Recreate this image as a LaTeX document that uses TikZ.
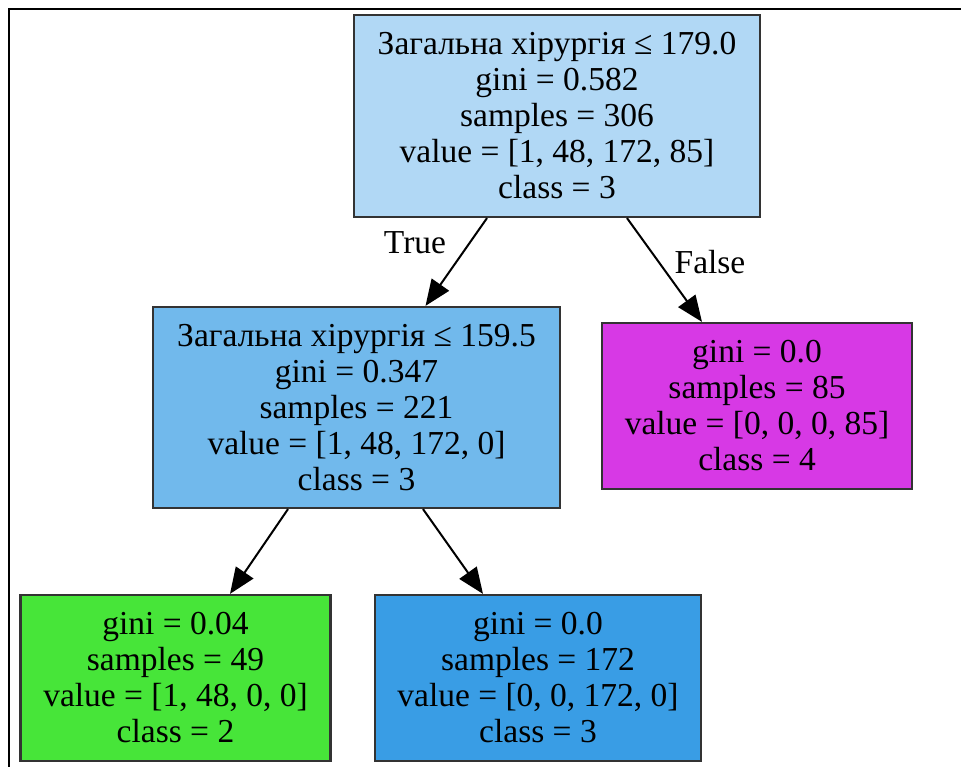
\documentclass[tikz,border=0pt]{standalone}
\usepackage{fontspec}
\setmainfont{Liberation Serif}
\usetikzlibrary{calc,arrows.meta}
\definecolor{rootc}{HTML}{B1D8F5}
\definecolor{midc}{HTML}{71B9EC}
\definecolor{purplec}{HTML}{D739E5}
\definecolor{greenc}{HTML}{47E539}
\definecolor{bluec}{HTML}{399DE5}
\definecolor{edgec}{HTML}{333333}
\begin{document}
\begin{tikzpicture}[x=1pt,y=-1pt,
  treenode/.style={draw=edgec, line width=2.2pt, rectangle, inner sep=0pt, align=center,
    font=\fontsize{33.5}{36}\selectfont, text=black},
  tarrow/.style={draw=black, line width=2pt, -{Triangle[length=26pt,width=21pt]}},
  elabel/.style={font=\fontsize{33.5}{36}\selectfont, inner sep=0pt}]
\useasboundingbox (0,0) rectangle (961,767);
\draw[line width=2pt, black] (9,780) -- (9,9) -- (975,9);
\node[treenode, fill=rootc, minimum width=406pt, minimum height=202pt] (root) at (557,116)
  {Загальна хірургія ≤ 179.0\\gini = 0.582\\samples = 306\\value = [1, 48, 172, 85]\\class = 3};
\node[treenode, fill=midc, minimum width=407pt, minimum height=201pt] (mid) at (356.5,407.5)
  {Загальна хірургія ≤ 159.5\\gini = 0.347\\samples = 221\\value = [1, 48, 172, 0]\\class = 3};
\node[treenode, fill=purplec, minimum width=310pt, minimum height=166pt] (right) at (757,406)
  {gini = 0.0\\samples = 85\\value = [0, 0, 0, 85]\\class = 4};
\node[treenode, fill=greenc, minimum width=310pt, minimum height=166pt] (bl) at (175.5,678)
  {gini = 0.04\\samples = 49\\value = [1, 48, 0, 0]\\class = 2};
\node[treenode, fill=bluec, minimum width=326pt, minimum height=166pt] (bm) at (538,678)
  {gini = 0.0\\samples = 172\\value = [0, 0, 172, 0]\\class = 3};
\draw[tarrow] ($(root.south)+(-70,0)$) -- ($(mid.north)+(69,0)$);
\draw[tarrow] ($(root.south)+(70,0)$) -- ($(right.north)+(-55,0)$);
\draw[tarrow] ($(mid.south)+(-68.5,0)$) -- ($(bl.north)+(54.5,0)$);
\draw[tarrow] ($(mid.south)+(66.5,0)$) -- ($(bm.north)+(-55,0)$);
\node[elabel] (tl) at (415,243) {True};
\node[elabel] (fl) at (710,262) {False};
\end{tikzpicture}
\end{document}
